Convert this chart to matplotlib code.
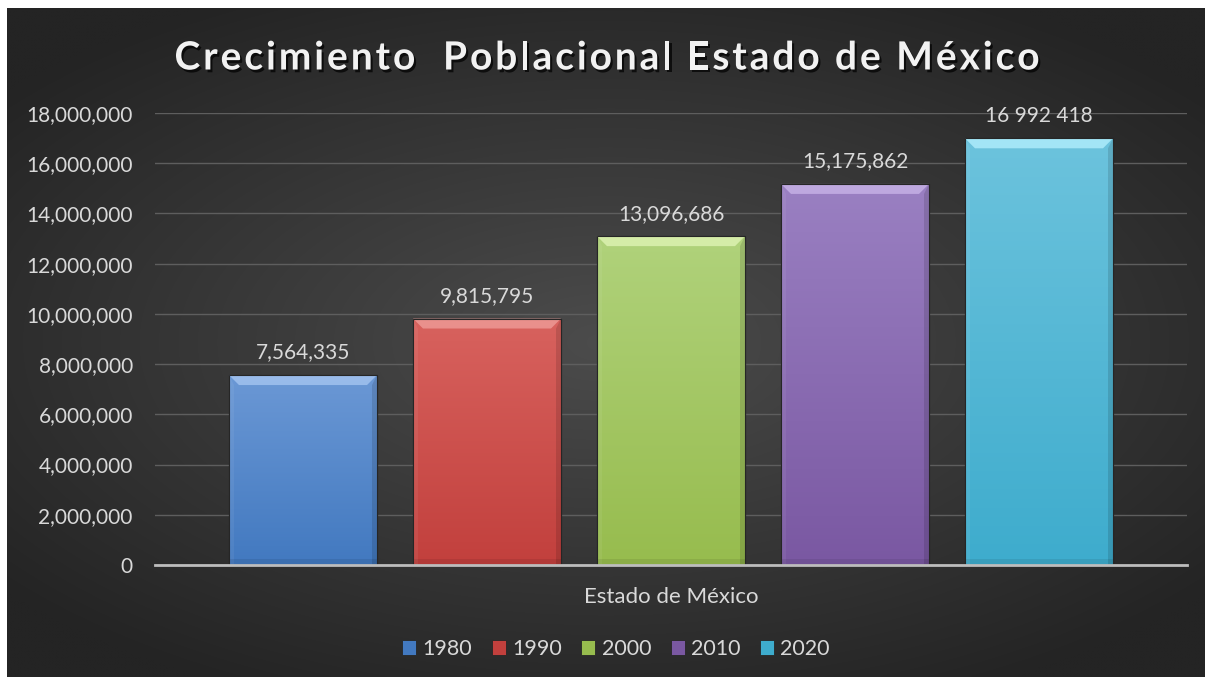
import numpy as np
import matplotlib
matplotlib.use("Agg")
import matplotlib.pyplot as plt
from matplotlib.patches import Polygon, Rectangle
from matplotlib.colors import to_rgb
from matplotlib.ticker import FuncFormatter
import matplotlib.patheffects as pe

years = ["1980", "1990", "2000", "2010", "2020"]
values = [7564335, 9815795, 13096686, 15175862, 16992418]
labels = ["7,564,335", "9,815,795", "13,096,686", "15,175,862", "16 992 418"]
category = "Estado de México"
title = "Crecimiento  Poblacional Estado de México"
top_colors = ["#6b98d5", "#d8625e", "#b0d27b", "#9a80c2", "#6cc3dd"]
bot_colors = ["#4279c0", "#c2403d", "#97bc4e", "#7a58a2", "#3eaccd"]
light = ["#a9c8f2", "#f0a09c", "#e2f6b8", "#cbb6ea", "#b6f2ff"]

FONT = ["Lato", "DejaVu Sans"]
plt.rcParams["font.family"] = FONT
TXT = "#d9d9d9"

W, H = 1213, 685
fig = plt.figure(figsize=(W / 100, H / 100), dpi=100, facecolor="white")

# background panel with radial gradient
bg = fig.add_axes([7 / W, 8 / H, (1205 - 7) / W, (677 - 8) / H])
bg.set_axis_off()
yy, xx = np.mgrid[-1:1:300j, -1:1:500j]
r = np.sqrt((xx / 1.0) ** 2 + (yy / 0.9) ** 2)
r = np.clip(r / 1.3, 0, 1)
c0 = np.array([0x4c, 0x4c, 0x4c]) / 255
c1 = np.array([0x24, 0x24, 0x24]) / 255
img = c0[None, None, :] * (1 - r[..., None]) + c1[None, None, :] * r[..., None]
bg.imshow(img, aspect="auto", extent=[0, 1, 0, 1], interpolation="bilinear")
bg.set_xlim(0, 1)
bg.set_ylim(0, 1)

ax = fig.add_axes([155 / W, (H - 565) / H, (1187 - 155) / W, (565 - 113) / H])
ax.set_facecolor("none")
n = len(values)
xpos = np.arange(n) - (n - 1) / 2
width = 148 / 184
half = 1032 / 184 / 2
ax.set_xlim(-half, half)
ax.set_ylim(0, 18e6)
bars = ax.bar(xpos, values, width=width, color=bot_colors, zorder=3,
              edgecolor="#262626", linewidth=0.8)

px_y = 18e6 / 452  # data units per pixel (y)
px_x = 1 / 184     # data units per pixel (x)
for b, tc, bc, lc in zip(bars, top_colors, bot_colors, light):
    x0, y0 = b.get_x(), b.get_y()
    w, h = b.get_width(), b.get_height()
    t = np.linspace(1, 0, 100)[:, None, None]
    grad = np.array(to_rgb(tc))[None, None, :] * t + np.array(to_rgb(bc))[None, None, :] * (1 - t)
    im = ax.imshow(grad, extent=[x0, x0 + w, y0, y0 + h], aspect="auto", zorder=3.5,
                   interpolation="bilinear")
    im.set_clip_path(b)
    dy = 10 * px_y
    dx = 10 * px_x
    top = Polygon([[x0, y0 + h], [x0 + w, y0 + h], [x0 + w - dx, y0 + h - dy], [x0 + dx, y0 + h - dy]],
                  closed=True, facecolor=lc, edgecolor="none", zorder=4, alpha=0.75)
    ax.add_patch(top)
    left = Polygon([[x0, y0 + h], [x0 + dx * 0.5, y0 + h - dy], [x0 + dx * 0.5, y0], [x0, y0]],
                   closed=True, facecolor="white", alpha=0.06, edgecolor="none", zorder=4)
    right = Polygon([[x0 + w, y0 + h], [x0 + w - dx * 0.5, y0 + h - dy], [x0 + w - dx * 0.5, y0], [x0 + w, y0]],
                    closed=True, facecolor="black", alpha=0.12, edgecolor="none", zorder=4)
    bottom = Rectangle((x0, y0), w, 6 * px_y, facecolor="black", alpha=0.08, edgecolor="none", zorder=4)
    ax.add_patch(left)
    ax.add_patch(right)
    ax.add_patch(bottom)
    edge = Rectangle((x0, y0), w, h, facecolor="none", edgecolor="#262626", linewidth=0.8, zorder=4.5)
    ax.add_patch(edge)

for b, lab in zip(bars, labels):
    ax.annotate(lab, (b.get_x() + b.get_width() / 2, b.get_height()),
                xytext=(0, 9), textcoords="offset points", ha="center", va="bottom",
                color=TXT, fontsize=15, zorder=5)

ax.set_yticks(np.arange(0, 18e6 + 1, 2e6))
ax.yaxis.set_major_formatter(FuncFormatter(lambda v, p: f"{int(v):,}"))
ax.tick_params(axis="y", colors=TXT, labelsize=15, length=0, pad=16)
ax.set_xticks([])
ax.grid(axis="y", color="#5e5e5e", linewidth=1, zorder=0)
for s in ["top", "right", "left"]:
    ax.spines[s].set_visible(False)
ax.spines["bottom"].set_color("#bdbdbd")
ax.spines["bottom"].set_linewidth(2)
ax.spines["bottom"].set_zorder(6)

fig.text(671 / W, 1 - 597 / H, category, ha="center", va="center", color=TXT, fontsize=16)

# title with letter spacing, laid out per character
renderer = fig.canvas.get_renderer()
tfs = 28
probe = fig.text(0, 0, title, fontsize=tfs, fontweight="bold")
full_w = probe.get_window_extent(renderer).width
probe.remove()
target_w = 865
spacing = (target_w - full_w) / (len(title) - 1)
start_x = 607 - target_w / 2
ty = H - 58
shadow = [pe.withSimplePatchShadow(offset=(1.5, -2), shadow_rgbFace="black", alpha=0.7)]
for i, ch in enumerate(title):
    if i == 0:
        pw = 0
    else:
        p = fig.text(0, 0, title[:i] + "|", fontsize=tfs, fontweight="bold")
        q = fig.text(0, 0, "|", fontsize=tfs, fontweight="bold")
        pw = p.get_window_extent(renderer).width - q.get_window_extent(renderer).width
        p.remove()
        q.remove()
    if ch == " ":
        continue
    fig.text((start_x + pw + i * spacing) / W, ty / H, ch, ha="left", va="center",
             color="#f2f2f2", fontsize=tfs, fontweight="bold", path_effects=shadow)

handles = [Rectangle((0, 0), 1, 1, facecolor=c, edgecolor="#262626", linewidth=0.6) for c in bot_colors]
leg = fig.legend(handles, years, loc="center", bbox_to_anchor=(616 / W, 1 - 649 / H), ncol=5,
                 frameon=False, fontsize=15.5, labelcolor=TXT, handlelength=0.65,
                 handleheight=0.65, handletextpad=0.3, columnspacing=0.9)

fig.savefig("out.png", dpi=100, facecolor="white")
